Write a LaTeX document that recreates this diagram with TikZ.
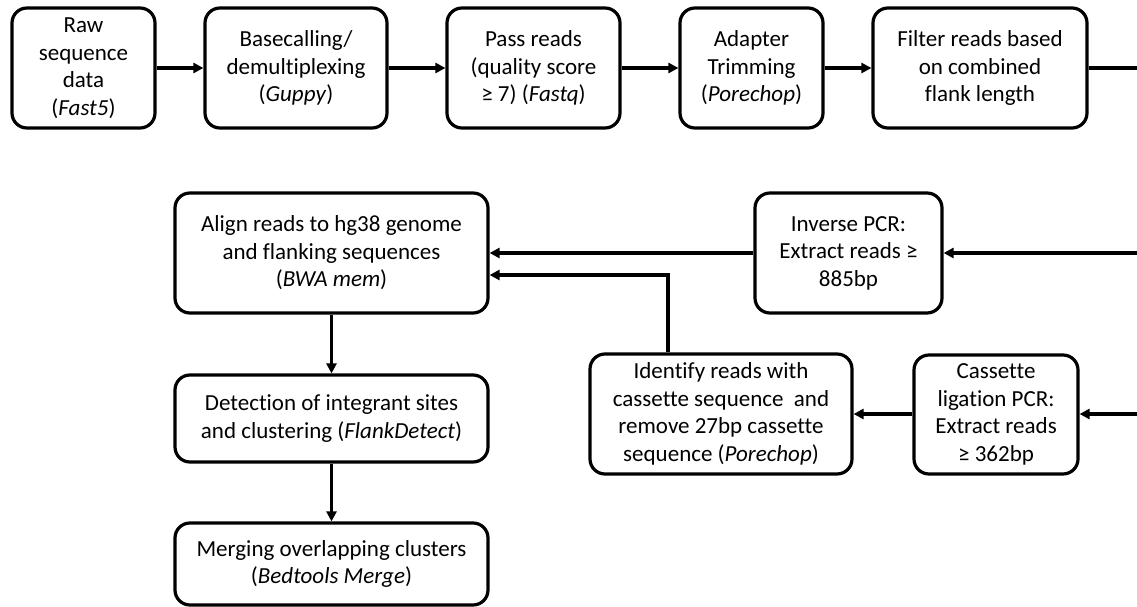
\documentclass[tikz,border=0pt]{standalone}
\usepackage{fontspec}
\setmainfont{Carlito}[Ligatures={NoCommon,NoRare,NoContextual},Contextuals=NoAlternate]
\usetikzlibrary{arrows.meta}
\begin{document}
\begin{tikzpicture}[x=1pt,y=-1pt,
  box/.style={draw=black, line width=3.2pt, rounded corners=15pt, align=center,
    inner sep=0pt, font=\fontsize{23}{27.5}\selectfont},
  conn/.style={draw=black, line width=3.2pt},
  arr/.style={conn, -{Triangle[length=10pt,width=10pt]}}]
\useasboundingbox (0,0) rectangle (1137,607);
% top row
\node[box, minimum width=143pt, minimum height=120pt] (raw) at (83.5,68) {Raw\\sequence\\data\\(\textit{Fast5})};
\node[box, minimum width=182pt, minimum height=120pt] (base) at (296,68) {Basecalling/\\demultiplexing\\(\textit{Guppy})};
\node[box, minimum width=173pt, minimum height=120pt] (pass) at (533.5,68) {Pass reads\\(quality score\\≥ 7) (\textit{Fastq})};
\node[box, minimum width=143pt, minimum height=120pt] (adapt) at (751.5,68) {Adapter\\Trimming\\(\textit{Porechop})};
\node[box, minimum width=214pt, minimum height=120pt] (filter) at (980,68) {Filter reads based\\on combined\\flank length};
% lower part
\node[box, minimum width=313pt, minimum height=120pt] (align) at (331.5,253) {Align reads to hg38 genome\\and flanking sequences\\(\textit{BWA mem})};
\node[box, minimum width=187pt, minimum height=120pt] (inverse) at (848.5,253) {Inverse PCR:\\Extract reads ≥\\885bp};
\node[box, minimum width=313pt, minimum height=87pt] (detect) at (331.5,418.5) {Detection of integrant sites\\and clustering (\textit{FlankDetect})};
\node[box, minimum width=313pt, minimum height=82pt] (merge) at (331.5,564) {Merging overlapping clusters\\(\textit{Bedtools Merge})};
\node[box, minimum width=262pt, minimum height=120pt] (ident) at (721,414) {Identify reads with\\cassette sequence\ \ and\\remove 27bp cassette\\sequence (\textit{Porechop})};
\node[box, minimum width=164pt, minimum height=119pt] (cass) at (996,414.5) {Cassette\\ligation PCR:\\Extract reads\\≥ 362bp};
% free ends at the right edge
\coordinate (outTop) at (1137,68);
\coordinate (inInv) at (1137,253);
\coordinate (inCass) at (1137,414);
\coordinate (elbow) at (668,275);
% connectors
\draw[arr] (raw) -- (base);
\draw[arr] (base) -- (pass);
\draw[arr] (pass) -- (adapt);
\draw[arr] (adapt) -- (filter);
\draw[conn] (filter.east) -- (outTop);
\draw[arr] (inInv) -- (inverse.east);
\draw[arr] (inverse.west) -- (align.east);
\draw[arr] (elbow |- ident.north) -- (elbow) -- (elbow -| align.east);
\draw[arr] (inCass) -- (cass.east |- inCass);
\draw[arr] (cass.west |- inCass) -- (ident.east |- inCass);
\draw[arr] (align) -- (detect);
\draw[arr] (detect) -- (merge);
\end{tikzpicture}
\end{document}
